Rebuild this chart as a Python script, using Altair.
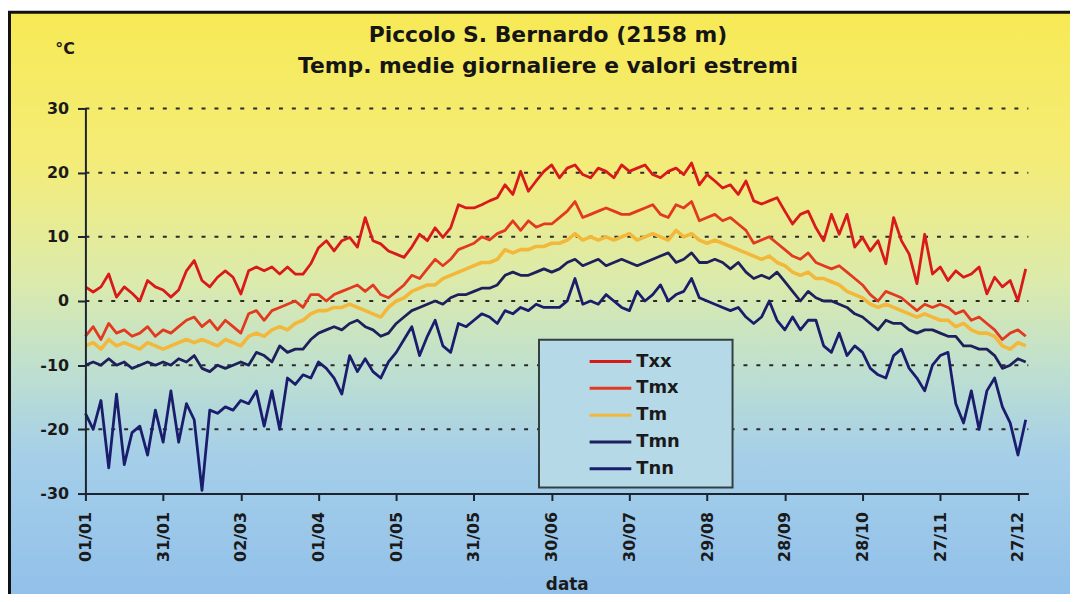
import json
import altair as alt
import pandas as pd

FONT = "DejaVu Sans"

# ---- data (every 3rd day of the year) ----
DAYS = list(range(0, 364, 3))

TXX = [2.2, 1.4, 2.2, 4.2, 0.6, 2.2, 1.2, 0, 3.2, 2.2, 1.7, 0.6, 1.7, 4.7, 6.3, 3.2, 2.2, 3.7, 4.7, 3.7,
       1.1, 4.7, 5.3, 4.7, 5.3, 4.2, 5.3, 4.2, 4.2, 5.8, 8.3,
       9.4, 7.8, 9.4, 9.9, 8.4, 13, 9.4, 8.9, 7.8, 7.3, 6.8, 8.4, 10.4, 9.4, 11.4, 9.9, 11.4, 15, 14.5,
       14.5, 15, 15.6, 16.1, 18.1, 16.6, 20.2, 17.1, 18.7, 20.2, 21.2,
       19.2, 20.7, 21.2, 19.7, 19.2, 20.7, 20.2, 19.2, 21.2, 20.2, 20.7, 21.2, 19.7, 19.2, 20.2, 20.7,
       19.7, 21.5, 18.1, 19.7, 18.7, 17.6, 18.1, 16.6, 18.7, 15.6, 15.1, 15.6, 16.1, 14,
       12, 13.5, 14, 11.4, 9.4, 13.5, 10.4, 13.5, 8.4, 9.9, 7.8, 9.4, 5.8, 13, 9.4, 7.3, 2.7, 10.4, 4.2,
       5.3, 3.2, 4.7, 3.7, 4.2, 5.3, 1.1, 3.7, 2.2, 3.2, 0, 5]

TMX = [-5.5, -4, -6, -3.5, -5, -4.5, -5.5, -5, -4, -5.5, -4.5, -5, -4, -3, -2.5, -4, -3, -4.5, -3, -4,
       -5, -2, -1.5, -3, -1.5, -1, -0.5, 0, -1, 1, 1,
       0, 1, 1.5, 2, 2.5, 1.5, 2.5, 1, 0.5, 1.5, 2.5, 4, 3.5, 5, 6.5, 5.5, 6.5, 8, 8.5, 9, 10, 9.5, 10.5,
       11, 12.5, 11, 12.5, 11.5, 12, 12,
       13, 14, 15.5, 13, 13.5, 14, 14.5, 14, 13.5, 13.5, 14, 14.5, 15, 13.5, 13, 15, 14.5, 15.5, 12.5,
       13, 13.5, 12.5, 13, 12, 11, 9, 9.5, 10, 9, 8,
       7, 6.5, 7.5, 6, 5.5, 5, 5.5, 4.5, 3.5, 2.5, 1, 0, 1.5, 1, 0.5, -0.5, -1.5, -0.5, -1, -0.5, -1,
       -2, -1.5, -3, -2.5, -3.5, -4.5, -6, -5, -4.5, -5.5]

TM = [-7, -6.5, -7.5, -6, -7, -6.5, -7, -7.5, -6.5, -7, -7.5, -7, -6.5, -6, -6.5, -6, -6.5, -7, -6,
      -6.5, -7, -5.5, -5, -5.5, -4.5, -4, -4.5, -3.5, -3, -2, -1.5,
      -1.5, -1, -1, -0.5, -1, -1.5, -2, -2.5, -1, 0, 0.5, 1.5, 2, 2.5, 2.5, 3.5, 4, 4.5, 5, 5.5, 6, 6,
      6.5, 8, 7.5, 8, 8, 8.5, 8.5, 9,
      9, 9.5, 10.5, 9.5, 10, 9.5, 10, 9.5, 10, 10.5, 9.5, 10, 10.5, 10, 9.5, 11, 10, 10.5, 9.5, 9, 9.5,
      9, 8.5, 8, 7.5, 7, 6.5, 7, 6, 5.5,
      4.5, 4, 4.5, 3.5, 3.5, 3, 2.5, 1.5, 1, 0.5, -0.5, -1, -0.5, -1, -1.5, -2, -2.5, -2, -2.5, -3, -3,
      -4, -3.5, -4.5, -5, -5, -5.5, -7, -7.5, -6.5, -7]

TMN = [-10, -9.5, -10, -9, -10, -9.5, -10.5, -10, -9.5, -10, -9.5, -10, -9, -9.5, -8.5, -10.5, -11,
       -10, -10.5, -10, -9.5, -10, -8, -8.5, -9.5, -7, -8, -7.5, -7.5, -6, -5,
       -4.5, -4, -4.5, -3.5, -3, -4, -4.5, -5.5, -5, -3.5, -2.5, -1.5, -1, -0.5, 0, -0.5, 0.5, 1, 1, 1.5,
       2, 2, 2.5, 4, 4.5, 4, 4, 4.5, 5, 4.5,
       5, 6, 6.5, 5.5, 6, 6.5, 5.5, 6, 6.5, 6, 5.5, 6, 6.5, 7, 7.5, 6, 6.5, 7.5, 6, 6, 6.5, 6, 5, 6, 4.5,
       3.5, 4, 3.5, 4.5, 3,
       1.5, 0, 1.5, 0.5, 0, 0, -0.5, -1, -2, -2.5, -3.5, -4.5, -3, -3.5, -3.5, -4.5, -5, -4.5, -4.5, -5,
       -5.5, -5.5, -7, -7, -7.5, -7.5, -8.5, -10.5, -10, -9, -9.5]

TNN = [-17.5, -20, -15.5, -26, -14.5, -25.5, -20.5, -19.5, -24, -17, -22, -14, -22, -16, -18.5, -29.5,
       -17, -17.5, -16.5, -17, -15.5, -16, -14, -19.5, -14, -20, -12, -13, -11.5, -12, -9.5,
       -10.5, -12, -14.5, -8.5, -11, -9, -11, -12, -9.5, -8, -6, -4, -8.5, -5.5, -3, -7, -8, -3.5, -4, -3,
       -2, -2.5, -3.5, -1.5, -2, -1, -1.5, -0.5, -1, -1,
       -1, 0, 3.5, -0.5, 0, -0.5, 1, 0, -1, -1.5, 1.5, 0, 1, 2.5, 0, 1, 1.5, 3.5, 0.5, 0, -0.5, -1, -1.5,
       -1, -2.5, -3.5, -2.5, 0, -3, -4.5,
       -2.5, -4.5, -3, -3, -7, -8, -5, -8.5, -7, -8, -10.5, -11.5, -12, -8.5, -7.5, -10.5, -12, -14, -10,
       -8.5, -8, -16, -19, -14, -20, -14, -12, -16.5, -19, -24, -18.5]

SERIES = ["Txx", "Tmx", "Tm", "Tmn", "Tnn"]
COLORS = ["#d81a1a", "#e23a1e", "#f3b73a", "#1e205c", "#1a1c6c"]
WIDTHS = [2.8, 2.8, 3.6, 2.8, 2.8]
VALUES = [TXX, TMX, TM, TMN, TNN]

TICK_LABELS = ["01/01", "31/01", "02/03", "01/04", "01/05", "31/05", "30/06",
               "30/07", "29/08", "28/09", "28/10", "27/11", "27/12"]
Y_TICKS = [-30, -20, -10, 0, 10, 20, 30]
GRID = [30, 20, 10, 0, -10, -20]
TITLE_LINES = ["Piccolo S. Bernardo (2158 m)", "Temp. medie giornaliere e valori estremi"]

rows = []
for name, vals, w in zip(SERIES, VALUES, WIDTHS):
    for d, v in zip(DAYS, vals):
        rows.append({"day": d, "temp": v, "serie": name, "w": w})
df = pd.DataFrame(rows)

W, H = 950, 388
xscale = alt.Scale(domain=[0, 364], nice=False, zero=False)
yscale = alt.Scale(domain=[-30, 30], nice=False, zero=False)

label_expr = ("datum.value % 30 === 0 ? " + json.dumps(TICK_LABELS) +
              "[datum.value / 30] : ''")

gradient = alt.LinearGradient(
    gradient="linear",
    stops=[
        alt.GradientStop(color="#f7e955", offset=0),
        alt.GradientStop(color="#f4ec78", offset=0.25),
        alt.GradientStop(color="#dcebab", offset=0.45),
        alt.GradientStop(color="#bfe0cf", offset=0.6),
        alt.GradientStop(color="#a5cfe9", offset=0.75),
        alt.GradientStop(color="#90bfe9", offset=1),
    ],
    x1=0, x2=0, y1=0, y2=1,
)

bg = alt.Chart(alt.Data(values=[{"k": 0}])).mark_rect(
    fill=gradient, stroke="#111111", strokeWidth=3
).encode(
    x=alt.value(-76.5), x2=alt.value(1000), y=alt.value(-97), y2=alt.value(500)
)

grid = alt.Chart(pd.DataFrame({"g": GRID})).mark_rule(
    color="#2a2a2a", strokeWidth=2, strokeDash=[4, 9]
).encode(
    y=alt.Y("g:Q", scale=yscale),
    x=alt.datum(0, scale=xscale),
    x2=alt.datum(364),
)

lines = alt.Chart(df).mark_line(interpolate="linear", strokeJoin="round").encode(
    x=alt.X("day:Q", scale=xscale,
            axis=alt.Axis(values=list(range(0, 361, 15)), labelExpr=label_expr,
                          labelAngle=270, labelFontSize=16, labelFontWeight="bold",
                          labelPadding=11, tickSize=7, grid=False,
                          title="data", titleFontSize=17, titleFontWeight="bold",
                          titleX=485, titleY=97, titleAlign="center",
                          titleBaseline="alphabetic", zindex=1)),
    y=alt.Y("temp:Q", scale=yscale,
            axis=alt.Axis(values=Y_TICKS, labelExpr="toString(datum.value)",
                          labelFontSize=16, labelFontWeight="bold", labelPadding=9,
                          tickSize=8, grid=False,
                          title="°C", titleAngle=0, titleFontSize=16, titleFontWeight="bold",
                          titleX=-21, titleY=-55, titleAlign="center",
                          titleBaseline="alphabetic", zindex=1)),
    color=alt.Color("serie:N", scale=alt.Scale(domain=SERIES, range=COLORS),
                    legend=alt.Legend(
                        orient="none", legendX=457, legendY=233, direction="vertical",
                        title="Tmx", titleOrient="right", titleColor="transparent",
                        titleFontSize=17, titleFont=FONT, titleFontWeight="bold",
                        titlePadding=2,
                        symbolType="M-2,0H2", symbolSize=441,
                        symbolStrokeWidth=3, symbolOffset=50, labelOffset=14,
                        labelFontSize=18, labelFont=FONT, labelFontWeight="bold",
                        labelColor="#1a1a1a", rowPadding=6, padding=10,
                        fillColor="#b6d9e8", strokeColor="#34403f", zindex=1)),
    strokeWidth=alt.StrokeWidth("w:Q", scale=None, legend=None),
    detail="serie:N",
)

chart = alt.layer(bg, grid, lines).properties(
    width=W, height=H,
    autosize=alt.AutoSizeParams(type="none"),
    padding={"left": 78, "top": 99, "right": 42, "bottom": 99},
    title=alt.TitleParams(text=TITLE_LINES, fontSize=22, fontWeight="bold", font=FONT,
                          color="#151515", anchor="middle", frame="group", orient="top",
                          baseline="bottom", offset=-90, dx=-9, lineHeight=31, zindex=1),
).configure_view(stroke=None).configure_axis(
    domainColor="#1c2430", domainWidth=2, tickColor="#1c2430", tickWidth=2,
    labelColor="#1a1a1a", titleColor="#1a1a1a", labelFont=FONT, titleFont=FONT,
).configure_legend(strokeWidth=2)

chart.save("out.html", embed_options={"renderer": "svg", "actions": False})
